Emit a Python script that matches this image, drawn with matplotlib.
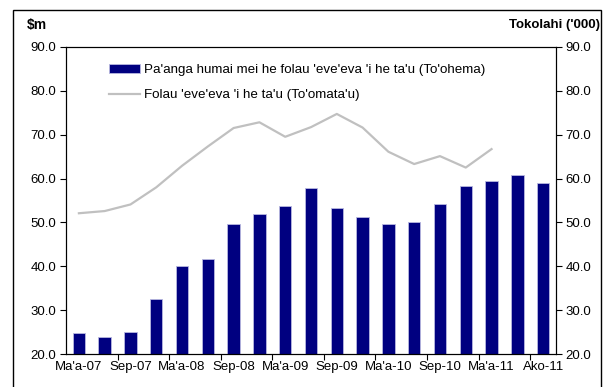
import numpy as np
import matplotlib.pyplot as plt
from matplotlib.patches import Rectangle

plt.rcParams['font.family'] = ['Liberation Sans', 'DejaVu Sans']

# quarterly periods, labels shown on every second bar
periods = ["Ma'a-07", "Jun-07", "Sep-07", "Dis-07", "Ma'a-08", "Jun-08", "Sep-08", "Dis-08",
           "Ma'a-09", "Jun-09", "Sep-09", "Dis-09", "Ma'a-10", "Jun-10", "Sep-10", "Dis-10",
           "Ma'a-11", "Jun-11", "Ako-11"]
receipts = [24.9, 23.9, 25.1, 32.5, 40.1, 41.6, 49.6, 51.9, 53.7, 57.8,
            53.4, 51.3, 49.6, 50.0, 54.1, 58.3, 59.5, 60.9, 59.0]
arrivals = [52.1, 52.6, 54.1, 58.0, 62.9, 67.3, 71.5, 72.8, 69.5, 71.7,
            74.7, 71.6, 66.1, 63.3, 65.1, 62.5, 66.7]

fig = plt.figure(figsize=(6.1, 3.87), dpi=100)
ax = fig.add_axes([0.1082, 0.0845, 0.8033, 0.7948])
ax2 = ax.twinx()

x = np.arange(len(periods))
bars = ax.bar(x, receipts, width=0.48, color='#000080', edgecolor='#b8b8e0', linewidth=0.6,
              label="Pa'anga humai mei he folau 'eve'eva 'i he ta'u (To'ohema)")
line, = ax2.plot(np.arange(len(arrivals)), arrivals, color='#c0c0c0', lw=1.6,
                 label="Folau 'eve'eva 'i he ta'u (To'omata'u)")

yt = np.arange(20, 91, 10)
for a in (ax, ax2):
    a.set_ylim(20, 90)
    a.set_xlim(-0.5, len(periods) - 0.5)
    a.set_yticks(yt)
    a.set_yticklabels(['%.1f' % v for v in yt])
    a.tick_params(axis='y', labelsize=9.5, length=4, width=0.8, pad=3)
    for s in a.spines.values():
        s.set_linewidth(0.8)

ax.set_xticks(np.arange(1.5, len(periods) - 1, 2))
ax.set_xticklabels([])
ax.set_xticks(x[::2], minor=True)
ax.set_xticklabels([periods[i] for i in x[::2]], minor=True)
ax.tick_params(axis='x', which='major', length=4, width=0.8)
ax.tick_params(axis='x', which='minor', length=0, labelsize=9.5, pad=5)

fig.text(27 / 610, 1 - 25 / 387, '$m', fontsize=10, fontweight='bold', va='center', ha='left')
fig.text(600 / 610, 1 - 25 / 387, "Tokolahi ('000)", fontsize=9.5, fontweight='bold',
         va='center', ha='right')

ax2.legend([bars, line], [bars.get_label(), line.get_label()], frameon=False,
           loc='upper left', bbox_to_anchor=(97 / 610, 1 - 52 / 387),
           bbox_transform=fig.transFigure, fontsize=9.6, handlelength=2.3,
           handleheight=0.6, handletextpad=0.3, labelspacing=1.0)

fig.add_artist(Rectangle((13 / 610, -0.01), 588 / 610, 0.01 + 1 - 10 / 387,
                         transform=fig.transFigure, fill=False, lw=1.0, ec='black'))

fig.savefig('out.png', dpi=100)
